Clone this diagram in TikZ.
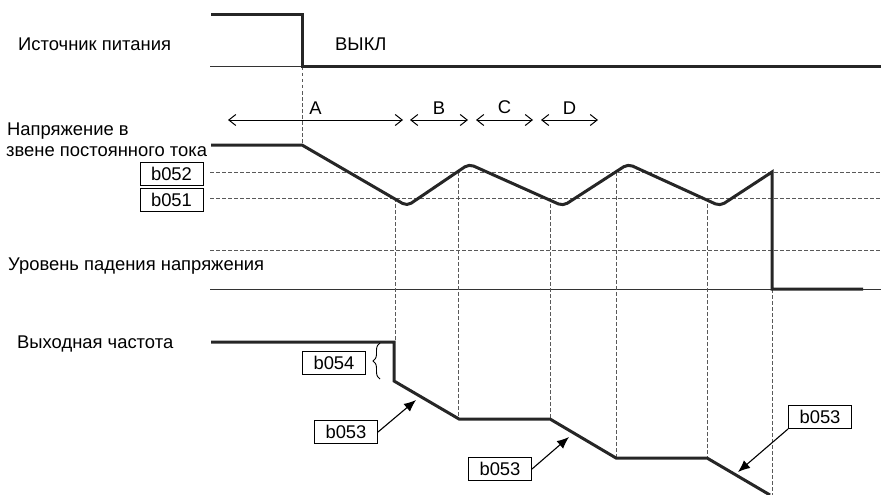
\documentclass[tikz,border=0pt]{standalone}
\usepackage{fontspec}
\setmainfont{Liberation Sans}
\usetikzlibrary{arrows.meta,decorations.pathreplacing}

\begin{document}
\begin{tikzpicture}[
  x=1pt, y=-1pt,
  lbltext/.style={anchor=west, inner sep=0pt, font=\fontsize{18.4}{20}\selectfont},
  parbox/.style={draw, line width=1pt, minimum width=63pt, minimum height=23pt,
                 inner sep=0pt, font=\fontsize{18.4}{20}\selectfont},
  sigline/.style={line width=3pt, draw=black!85},
  baseln/.style={line width=1pt, draw=black!80},
  guideln/.style={line width=0.9pt, draw=black!65, dash pattern=on 3.5pt off 2.5pt},
  spanarr/.style={{Straight Barb[length=7pt,width=11pt]}-{Straight Barb[length=7pt,width=11pt]},
                  line width=1pt},
  ptrarr/.style={-{Latex[length=12pt,width=10pt]}, line width=1.1pt}
]
  \useasboundingbox (0,0) rectangle (881,495);

  \node[lbltext] (lsupply) at (18,44) {Источник питания};
  \node[lbltext] (loff) at (335,44) {ВЫКЛ};
  \node[lbltext] (ldc1) at (7,131) {Напряжение в};
  \node[lbltext] (ldc2) at (6,152) {звене постоянного тока};
  \node[lbltext] (llevel) at (8,266) {Уровень падения напряжения};
  \node[lbltext] (lfreq) at (17,344) {Выходная частота};

  \node[parbox] (p052) at (171.5,174) {b052};
  \node[parbox] (p051) at (171.5,199.5) {b051};
  \node[parbox] (p054) at (334,363) {b054};
  \node[parbox] (p053a) at (346,432) {b053};
  \node[parbox] (p053b) at (500,469) {b053};
  \node[parbox] (p053c) at (820,417) {b053};

  % levels
  \draw[guideln] (210,172) -- (881,172);
  \draw[guideln] (210,198) -- (881,198);
  \draw[guideln] (210,250) -- (881,250);
  \draw[baseln] (210,67) -- (302,67);
  \draw[baseln] (210,289) -- (881,289);

  \draw[guideln] (302,67) -- (302,145);
  \draw[guideln] (395,198) -- (395,342);
  \draw[guideln] (458,172) -- (458,419);
  \draw[guideln] (550,198) -- (550,419);
  \draw[guideln] (616,172) -- (616,458);
  \draw[guideln] (707,198) -- (707,458);
  \draw[guideln] (772,289) -- (772,495);

  % signals
  \draw[sigline] (211,15) -- (302,15) -- (302,67) -- (881,67);
  \draw[sigline] (211,145) -- (302,145) [rounded corners=5pt] -- (407,206) -- (469,164)
    -- (563,206) -- (628,164) -- (720,206) [sharp corners] -- (772,172) -- (772,289) -- (863,289);
  \draw[sigline] (211,342) -- (394,342) -- (394,381) -- (459,419) -- (550,419)
    -- (616,458) -- (707,458) -- (770,495);

  \draw[spanarr] (228,120) -- node[above=2pt, font=\fontsize{18.4}{20}\selectfont] (lA) {A} (403,120);
  \draw[spanarr] (410,120) -- node[above=2pt, font=\fontsize{18.4}{20}\selectfont] (lB) {B} (468,120);
  \draw[spanarr] (476,120) -- node[above=2pt, font=\fontsize{18.4}{20}\selectfont] (lC) {C} (533,120);
  \draw[spanarr] (541,120) -- node[above=2pt, font=\fontsize{18.4}{20}\selectfont] (lD) {D} (598,120);

  \draw[line width=0.9pt, decorate, decoration={brace, amplitude=7pt}]
    (380,379) -- (380,343);

  \coordinate (t1) at (416,400);
  \coordinate (t2) at (569,437);
  \coordinate (t3) at (738,472);
  \draw[ptrarr] (p053a.east) -- (t1);
  \draw[ptrarr] (p053b.east) -- (t2);
  \draw[ptrarr] (p053c.south west) -- (t3);
\end{tikzpicture}
\end{document}
